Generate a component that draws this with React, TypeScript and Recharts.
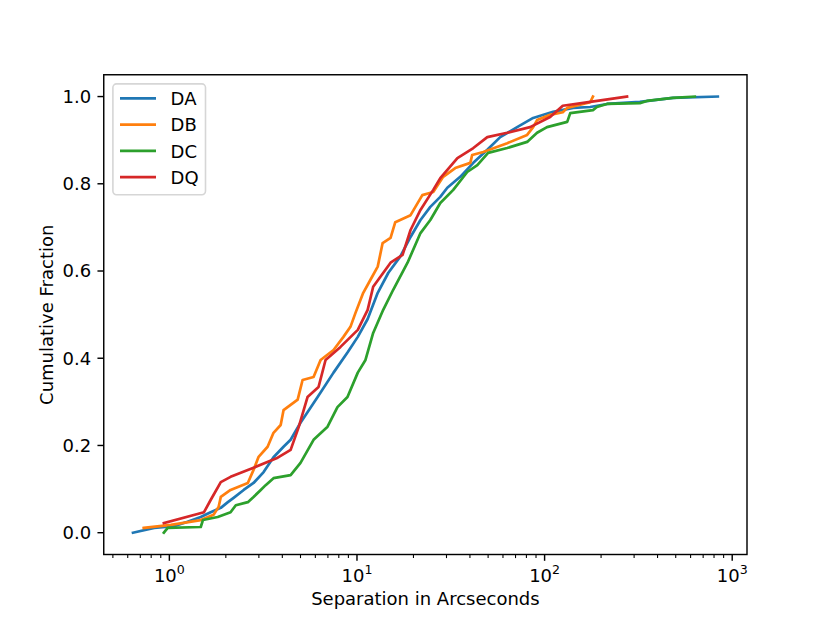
import React from "react";
import { LineChart, Line, XAxis, YAxis, Legend } from "recharts";

// [separation (arcsec), cumulative fraction]
const DA: [number, number][] = [
  [0.64, 0.0], [0.83, 0.011], [1.06, 0.015], [1.25, 0.025], [1.47, 0.036], [1.66, 0.047],
  [1.88, 0.057], [2.05, 0.07], [2.2, 0.08], [2.49, 0.098], [2.81, 0.114], [3.18, 0.139],
  [3.59, 0.173], [4.06, 0.197], [4.43, 0.213], [5.0, 0.252], [6.17, 0.311], [7.5, 0.367],
  [8.9, 0.413], [10.1, 0.449], [11.4, 0.49], [12.9, 0.55], [14.7, 0.596], [17.0, 0.633],
  [19.3, 0.678], [21.8, 0.717], [24.6, 0.747], [27.8, 0.77], [30.3, 0.791], [35.5, 0.816],
  [41.7, 0.848], [49.5, 0.878], [58.0, 0.907], [71.4, 0.93], [86.9, 0.951], [111, 0.965],
  [142, 0.974], [175, 0.976], [215, 0.983], [322, 0.988], [483, 0.997], [838, 1.0],
];

const DB: [number, number][] = [
  [0.73, 0.011], [1.02, 0.018], [1.47, 0.029], [1.72, 0.041], [1.83, 0.059], [1.88, 0.082],
  [2.12, 0.098], [2.62, 0.114], [2.81, 0.144], [2.99, 0.174], [3.34, 0.197], [3.59, 0.229],
  [3.92, 0.247], [4.06, 0.281], [4.83, 0.305], [5.13, 0.35], [5.87, 0.357], [6.4, 0.396],
  [7.5, 0.419], [8.47, 0.449], [9.23, 0.472], [9.82, 0.504], [10.8, 0.55], [11.8, 0.58],
  [12.9, 0.61], [13.7, 0.664], [15.1, 0.676], [16.0, 0.712], [19.3, 0.728], [22.3, 0.774],
  [25.5, 0.781], [28.8, 0.816], [33.4, 0.836], [40.2, 0.848], [41.1, 0.866], [47.1, 0.873],
  [63.2, 0.893], [80.7, 0.912], [86.9, 0.93], [91.2, 0.946], [107, 0.958], [125, 0.964],
  [132, 0.974], [175, 0.987], [181, 1.0],
];

const DC: [number, number][] = [
  [0.935, 0.0], [0.98, 0.011], [1.47, 0.013], [1.51, 0.029], [1.81, 0.036], [2.12, 0.047],
  [2.26, 0.063], [2.62, 0.07], [2.81, 0.082], [3.07, 0.098], [3.26, 0.109], [3.59, 0.125],
  [4.43, 0.132], [5.0, 0.16], [5.87, 0.213], [6.97, 0.243], [7.87, 0.288], [8.9, 0.311],
  [10.1, 0.367], [11.1, 0.396], [12.2, 0.458], [13.8, 0.511], [15.6, 0.557], [18.6, 0.619],
  [21.8, 0.687], [24.6, 0.717], [27.8, 0.756], [32.6, 0.786], [38.7, 0.827], [43.8, 0.843],
  [50.0, 0.871], [63.2, 0.882], [80.7, 0.896], [91.2, 0.917], [103, 0.93], [132, 0.942],
  [137, 0.962], [181, 0.969], [190, 0.976], [215, 0.983], [322, 0.985], [351, 0.99],
  [483, 0.997], [632, 1.0],
];

const DQ: [number, number][] = [
  [0.935, 0.022], [1.53, 0.047], [1.66, 0.075], [1.88, 0.116], [2.12, 0.128], [2.81, 0.149],
  [3.78, 0.172], [4.43, 0.19], [4.89, 0.242], [5.45, 0.311], [6.24, 0.334], [6.8, 0.396],
  [8.17, 0.426], [10.1, 0.465], [11.4, 0.511], [12.2, 0.564], [15.1, 0.619], [17.5, 0.637],
  [19.3, 0.694], [21.8, 0.74], [25.5, 0.786], [27.8, 0.813], [34.3, 0.859], [41.7, 0.882],
  [49.5, 0.907], [63.2, 0.917], [83.7, 0.93], [107, 0.953], [125, 0.979], [175, 0.988],
  [275, 1.0],
];

const SERIES_NAMES = ["DA", "DB", "DC", "DQ"];
const SERIES_COLORS = ["#1f77b4", "#ff7f0e", "#2ca02c", "#d62728"];
const SERIES_DATA = [DA, DB, DC, DQ];

const X_MAJOR_TICKS = [1, 10, 100, 1000];
const X_MAJOR_EXP = ["0", "1", "2", "3"];
const X_MINOR_TICKS = [
  0.5, 0.6, 0.7, 0.8, 0.9,
  2, 3, 4, 5, 6, 7, 8, 9,
  20, 30, 40, 50, 60, 70, 80, 90,
  200, 300, 400, 500, 600, 700, 800, 900,
];
const Y_TICKS = [0, 0.2, 0.4, 0.6, 0.8, 1.0];

const FONT = "DejaVu Sans";

const toRows = (pairs: [number, number][]) => pairs.map(([x, y]) => ({ x, y }));

const XTick = (props: any) => {
  const { x, y, payload } = props;
  const v = payload.value;
  const idx = X_MAJOR_TICKS.indexOf(v);
  const major = idx >= 0;
  return (
    <g>
      <line
        x1={x}
        x2={x}
        y1={y}
        y2={y + (major ? 6.3 : 3.6)}
        stroke="#000"
        strokeWidth={major ? 1.44 : 1.08}
      />
      {major && (
        <text
          x={x}
          y={y + 27.2}
          textAnchor="middle"
          fontFamily={FONT}
          fontSize={18}
          fill="#000"
        >
          <tspan>10</tspan>
          <tspan dy={-7.6} fontSize={12.6}>
            {X_MAJOR_EXP[idx]}
          </tspan>
        </text>
      )}
    </g>
  );
};

const LegendBox = (props: any) => {
  const payload = props.payload || [];
  return (
    <svg width={96} height={114} style={{ display: "block" }}>
      <rect
        x={0.9}
        y={0.9}
        width={92.6}
        height={110.8}
        rx={3.6}
        ry={3.6}
        fill="#ffffff"
        fillOpacity={0.8}
        stroke="#d6d6d6"
        strokeWidth={1.6}
      />
      {payload.map((p: any, i: number) => {
        const cy = 15.3 + i * 26.3;
        return (
          <g key={i}>
            <line x1={8} x2={44} y1={cy} y2={cy} stroke={p.color} strokeWidth={2.7} />
            <text x={58.6} y={cy + 6.7} fontFamily={FONT} fontSize={18} fill="#000">
              {p.value}
            </text>
          </g>
        );
      })}
    </svg>
  );
};

export default function App() {
  return (
    <div style={{ position: "absolute", left: 0, top: 0, width: 830, height: 623, background: "#fff" }}>
      <LineChart
        width={830}
        height={623}
        margin={{ top: 74.75, right: 83, bottom: 28.5, left: 43.75 }}
      >
        <XAxis
          dataKey="x"
          type="number"
          scale="log"
          domain={[0.447, 1199]}
          allowDataOverflow
          ticks={[...X_MINOR_TICKS, ...X_MAJOR_TICKS].sort((a, b) => a - b)}
          interval={0}
          tick={<XTick />}
          tickLine={false}
          tickSize={0}
          tickMargin={0}
          axisLine={false}
          height={40}
        />
        <YAxis
          type="number"
          domain={[-0.05, 1.05]}
          allowDataOverflow
          ticks={Y_TICKS}
          interval={0}
          tickFormatter={(v: number) => v.toFixed(1)}
          tick={{ fill: "#000", fontSize: 18, fontFamily: FONT }}
          tickLine={{ stroke: "#000", strokeWidth: 1.44 }}
          tickSize={6.3}
          tickMargin={6.3}
          axisLine={false}
          width={60}
        />
        {SERIES_DATA.map((d, i) => (
          <Line
            key={SERIES_NAMES[i]}
            name={SERIES_NAMES[i]}
            data={toRows(d)}
            dataKey="y"
            type="linear"
            stroke={SERIES_COLORS[i]}
            strokeWidth={2.7}
            strokeLinejoin="round"
            strokeLinecap="square"
            dot={false}
            activeDot={false}
            isAnimationActive={false}
          />
        ))}
        <Legend
          layout="horizontal"
          verticalAlign="middle"
          align="center"
          content={<LegendBox />}
          wrapperStyle={{ position: "absolute", left: 112, top: 83, width: 96, height: 114 }}
        />
      </LineChart>
      <svg
        width={830}
        height={623}
        style={{ position: "absolute", left: 0, top: 0, pointerEvents: "none" }}
      >
        <rect
          x={103.75}
          y={74.75}
          width={643.25}
          height={479.75}
          fill="none"
          stroke="#000"
          strokeWidth={1.44}
        />
        <text
          x={425.4}
          y={605}
          textAnchor="middle"
          fontFamily={FONT}
          fontSize={18}
          fill="#000"
        >
          Separation in Arcseconds
        </text>
        <text
          transform="translate(53.3,314.75) rotate(-90)"
          textAnchor="middle"
          fontFamily={FONT}
          fontSize={18}
          fill="#000"
        >
          Cumulative Fraction
        </text>
      </svg>
    </div>
  );
}
